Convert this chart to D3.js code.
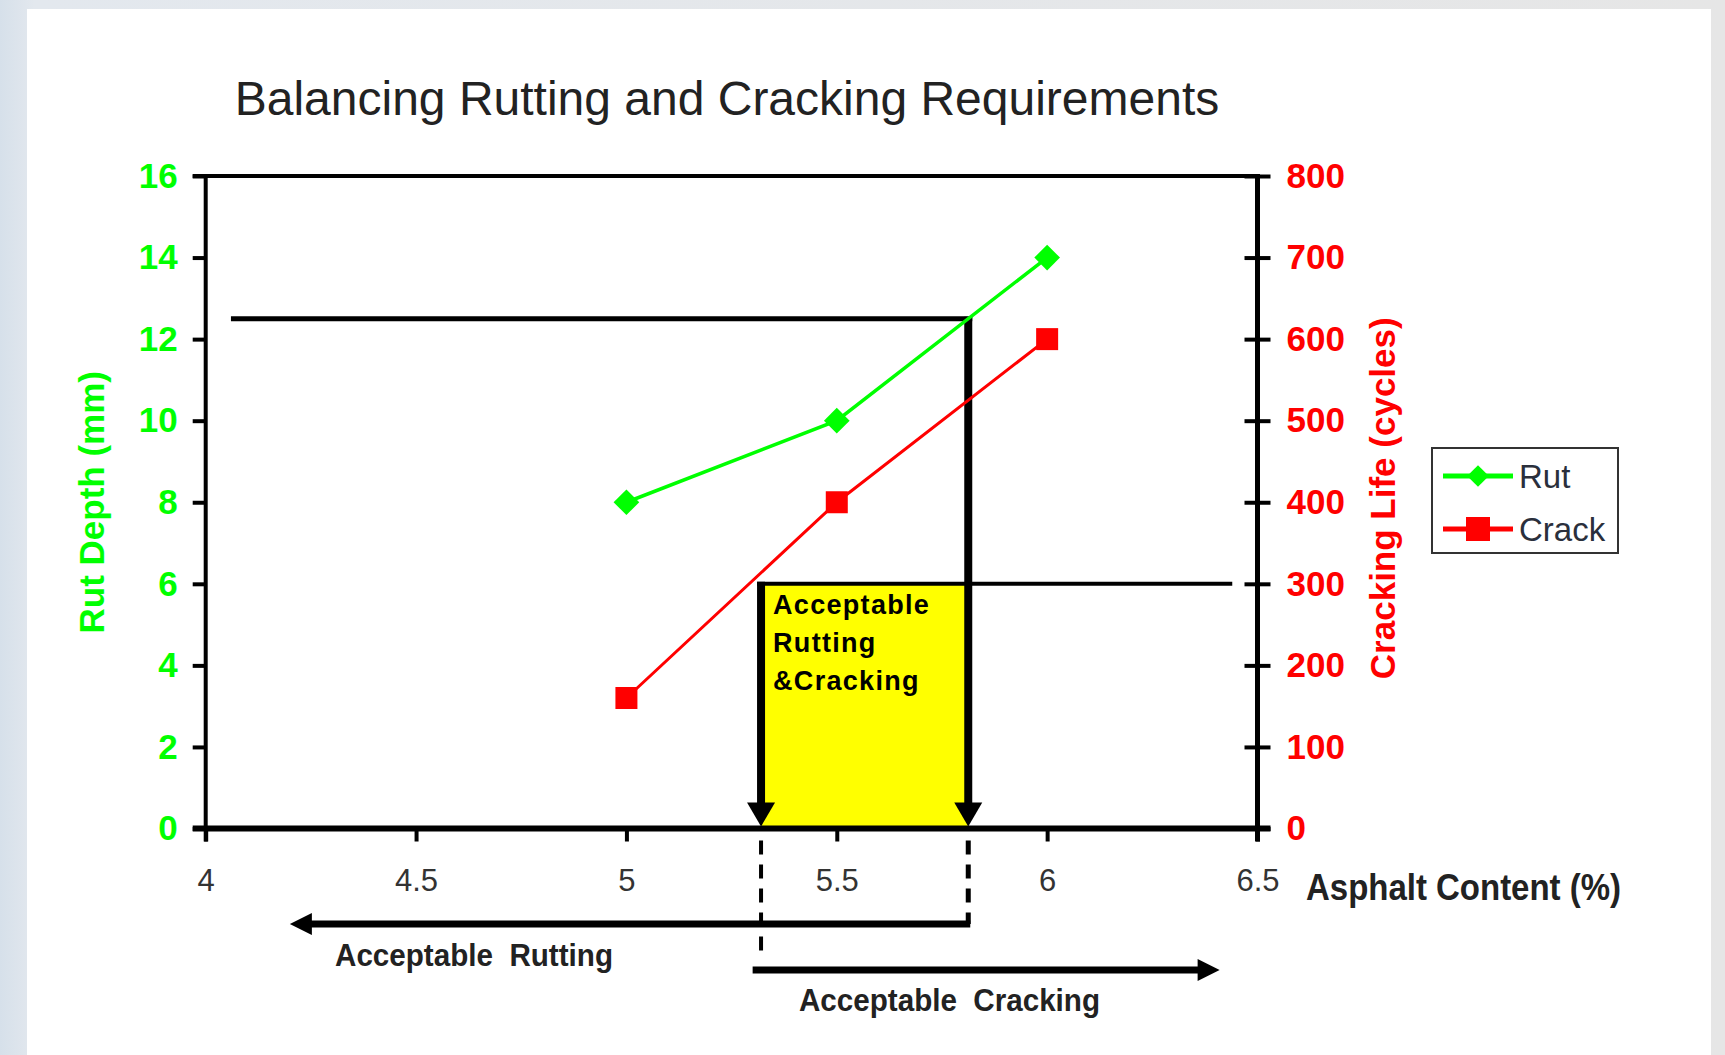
<!DOCTYPE html>
<html>
<head>
<meta charset="utf-8">
<script src="https://cdn.jsdelivr.net/npm/d3@7"></script>
<style>
  html, body { margin: 0; padding: 0; }
  body { width: 1725px; height: 1055px; overflow: hidden; }
  svg { display: block; }
</style>
</head>
<body>
<script>
// ---- data ----
const asphaltContent = [5, 5.5, 6];
const rutDepth = [8, 10, 14];
const crackLife = [160, 400, 600];
const xTickValues = [4, 4.5, 5, 5.5, 6, 6.5];
const rutTickValues = [0, 2, 4, 6, 8, 10, 12, 14, 16];
const crackTickValues = [0, 100, 200, 300, 400, 500, 600, 700, 800];
const seriesNames = ["Rut", "Crack"];
// annotation values
const rutLimit = 12.5;        // mm
const crackLimit = 300;       // cycles
const acceptLow = 5.32;       // % asphalt
const acceptHigh = 5.8125;    // % asphalt
const rutLineStart = 4.06;
const crackLineEnd = 6.44;
const rutArrowTip = 4.2;
const crackArrowStart = 5.3;
const crackArrowTip = 6.41;

(function () {
const W = 1725, H = 1055;
const FONT = "'Liberation Sans', Arial, Helvetica, sans-serif";
const GREEN = "#00ff00", RED = "#ff0000";

const svg = d3.select("body").append("svg").attr("width", W).attr("height", H);

// background
const defs = svg.append("defs");
const bg = defs.append("linearGradient").attr("id", "bg").attr("x1", 0).attr("y1", 0).attr("x2", 1).attr("y2", 0);
bg.append("stop").attr("offset", "0%").attr("stop-color", "#d6e0ea");
bg.append("stop").attr("offset", "2%").attr("stop-color", "#e3e8ee");
bg.append("stop").attr("offset", "100%").attr("stop-color", "#e6e6e6");
svg.append("rect").attr("width", W).attr("height", H).attr("fill", "url(#bg)");
svg.append("rect").attr("x", 27).attr("y", 9).attr("width", 1684).attr("height", H - 9).attr("fill", "#ffffff");

// plot frame
const pLeft = 205.7, pRight = 1257.5, pTop = 176, pBottom = 828.5;
const x = d3.scaleLinear().domain([4, 6.5]).range([pLeft, pRight]);
const yL = d3.scaleLinear().domain([0, 16]).range([pBottom, pTop]);
const yR = d3.scaleLinear().domain([0, 800]).range([pBottom, pTop]);

// title
svg.append("text").attr("x", 727).attr("y", 115).attr("text-anchor", "middle")
  .attr("font-family", FONT).attr("font-size", 48).attr("fill", "#222")
  .text("Balancing Rutting and Cracking Requirements");

// yellow acceptable region
svg.append("rect")
  .attr("x", x(acceptLow)).attr("y", yR(crackLimit))
  .attr("width", x(acceptHigh) - x(acceptLow)).attr("height", yR(0) - yR(crackLimit))
  .attr("fill", "#ffff00");

// axes
const gL = svg.append("g").attr("transform", `translate(${pLeft},0)`)
  .call(d3.axisLeft(yL).tickValues(rutTickValues).tickSize(13).tickPadding(15));
gL.select(".domain").remove();
gL.selectAll(".tick line").attr("stroke", "#000").attr("stroke-width", 4);
gL.selectAll(".tick text").attr("font-family", FONT).attr("font-size", 35).attr("font-weight", "bold")
  .attr("fill", GREEN);

const gR = svg.append("g").attr("transform", `translate(${pRight},0)`)
  .call(d3.axisRight(yR).tickValues(crackTickValues).tickSize(13).tickPadding(16));
gR.select(".domain").remove();
gR.selectAll(".tick line").attr("x1", -13).attr("stroke", "#000").attr("stroke-width", 4);
gR.selectAll(".tick text").attr("font-family", FONT).attr("font-size", 35).attr("font-weight", "bold")
  .attr("fill", RED);

const gB = svg.append("g").attr("transform", `translate(0,${pBottom})`)
  .call(d3.axisBottom(x).tickValues(xTickValues).tickSize(13).tickPadding(27).tickFormat(d3.format("")));
gB.select(".domain").remove();
gB.selectAll(".tick line").attr("stroke", "#000").attr("stroke-width", 4);
gB.selectAll(".tick text").attr("font-family", FONT).attr("font-size", 31)
  .attr("fill", "#333");

// frame lines
svg.append("line").attr("x1", pLeft - 13).attr("x2", pRight).attr("y1", pTop).attr("y2", pTop)
  .attr("stroke", "#000").attr("stroke-width", 4);
svg.append("line").attr("x1", pLeft).attr("x2", pLeft).attr("y1", pTop - 2).attr("y2", pBottom + 13)
  .attr("stroke", "#000").attr("stroke-width", 4);
svg.append("line").attr("x1", pRight).attr("x2", pRight).attr("y1", pTop - 2).attr("y2", pBottom + 13)
  .attr("stroke", "#000").attr("stroke-width", 5);

// axis titles
svg.append("text").attr("transform", `translate(104,${(pTop + pBottom) / 2}) rotate(-90)`)
  .attr("text-anchor", "middle").attr("font-family", FONT).attr("font-size", 35)
  .attr("font-weight", "bold").attr("fill", GREEN).text("Rut Depth (mm)");
svg.append("text").attr("transform", `translate(1395,${(pTop + pBottom) / 2 - 4}) rotate(-90)`)
  .attr("text-anchor", "middle").attr("font-family", FONT).attr("font-size", 35)
  .attr("font-weight", "bold").attr("fill", RED).text("Cracking Life (cycles)");
svg.append("text").attr("x", 1306).attr("y", 900)
  .attr("font-family", FONT).attr("font-size", 36).attr("font-weight", "bold").attr("fill", "#222")
  .attr("textLength", 315).attr("lengthAdjust", "spacingAndGlyphs")
  .text("Asphalt Content (%)");

// limit lines
svg.append("line").attr("x1", x(rutLineStart)).attr("x2", x(acceptHigh) + 4)
  .attr("y1", yL(rutLimit)).attr("y2", yL(rutLimit)).attr("stroke", "#000").attr("stroke-width", 5);
svg.append("line").attr("x1", x(acceptLow) - 4).attr("x2", x(crackLineEnd))
  .attr("y1", yR(crackLimit)).attr("y2", yR(crackLimit)).attr("stroke", "#000").attr("stroke-width", 4);

// vertical arrows down to the axis
function downArrow(xv, yTop) {
  const xp = x(xv);
  svg.append("line").attr("x1", xp).attr("x2", xp).attr("y1", yTop).attr("y2", pBottom - 20)
    .attr("stroke", "#000").attr("stroke-width", 8);
  svg.append("path").attr("d", `M${xp - 14},${pBottom - 26} L${xp + 14},${pBottom - 26} L${xp},${pBottom - 2} Z`)
    .attr("fill", "#000");
}
downArrow(acceptLow, yR(crackLimit) - 2);
downArrow(acceptHigh, yL(rutLimit) - 2);

// bottom axis line (drawn over arrows)
svg.append("line").attr("x1", pLeft - 13).attr("x2", pRight + 13).attr("y1", pBottom).attr("y2", pBottom)
  .attr("stroke", "#000").attr("stroke-width", 6);

// box label
const boxLabel = svg.append("text").attr("font-family", FONT).attr("font-size", 27)
  .attr("font-weight", "bold").attr("fill", "#000").attr("letter-spacing", 1.3);
["Acceptable", "Rutting", "&Cracking"].forEach((t, i) => {
  boxLabel.append("tspan").attr("x", x(acceptLow) + 12).attr("y", 614 + i * 38).text(t);
});

// series lines
const line = d3.line().x(d => x(d[0])).y(d => d[1]);
svg.append("path").datum(asphaltContent.map((a, i) => [a, yL(rutDepth[i])]))
  .attr("d", line).attr("fill", "none").attr("stroke", GREEN).attr("stroke-width", 3.5);
svg.append("path").datum(asphaltContent.map((a, i) => [a, yR(crackLife[i])]))
  .attr("d", line).attr("fill", "none").attr("stroke", RED).attr("stroke-width", 3);
svg.selectAll(".rutpt").data(asphaltContent).enter().append("path")
  .attr("d", d3.symbol(d3.symbolDiamond2, 420)())
  .attr("transform", (d, i) => `translate(${x(d)},${yL(rutDepth[i])})`).attr("fill", GREEN);
svg.selectAll(".crackpt").data(asphaltContent).enter().append("rect")
  .attr("x", d => x(d) - 11).attr("y", (d, i) => yR(crackLife[i]) - 11)
  .attr("width", 22).attr("height", 22).attr("fill", RED);

// dashed guide lines below the axis
svg.append("line").attr("x1", x(acceptLow)).attr("x2", x(acceptLow)).attr("y1", pBottom + 12).attr("y2", 960)
  .attr("stroke", "#000").attr("stroke-width", 4).attr("stroke-dasharray", "14,10");
svg.append("line").attr("x1", x(acceptHigh)).attr("x2", x(acceptHigh)).attr("y1", pBottom + 12).attr("y2", 924)
  .attr("stroke", "#000").attr("stroke-width", 5).attr("stroke-dasharray", "14,10");

// horizontal arrows
const yRutArrow = 924, yCrackArrow = 970;
svg.append("line").attr("x1", x(acceptHigh) + 2).attr("x2", x(rutArrowTip) + 18)
  .attr("y1", yRutArrow).attr("y2", yRutArrow).attr("stroke", "#000").attr("stroke-width", 7);
svg.append("path").attr("d", `M${x(rutArrowTip)},${yRutArrow} L${x(rutArrowTip) + 22},${yRutArrow - 11} L${x(rutArrowTip) + 22},${yRutArrow + 11} Z`).attr("fill", "#000");
svg.append("line").attr("x1", x(crackArrowStart)).attr("x2", x(crackArrowTip) - 18)
  .attr("y1", yCrackArrow).attr("y2", yCrackArrow).attr("stroke", "#000").attr("stroke-width", 7);
svg.append("path").attr("d", `M${x(crackArrowTip)},${yCrackArrow} L${x(crackArrowTip) - 22},${yCrackArrow - 11} L${x(crackArrowTip) - 22},${yCrackArrow + 11} Z`).attr("fill", "#000");

svg.append("text").attr("x", 335).attr("y", 966).attr("font-family", FONT).attr("font-size", 31)
  .attr("font-weight", "bold").attr("fill", "#222").attr("textLength", 278).attr("lengthAdjust", "spacingAndGlyphs")
  .attr("xml:space", "preserve").text("Acceptable  Rutting");
svg.append("text").attr("x", 799).attr("y", 1011).attr("font-family", FONT).attr("font-size", 31)
  .attr("font-weight", "bold").attr("fill", "#222").attr("textLength", 301).attr("lengthAdjust", "spacingAndGlyphs")
  .attr("xml:space", "preserve").text("Acceptable  Cracking");

// legend
const lg = svg.append("g");
lg.append("rect").attr("x", 1432).attr("y", 448).attr("width", 186).attr("height", 105)
  .attr("fill", "#fff").attr("stroke", "#333").attr("stroke-width", 2);
const legendRows = [
  { name: seriesNames[0], color: GREEN, y: 476 },
  { name: seriesNames[1], color: RED, y: 529 }
];
legendRows.forEach((r, i) => {
  lg.append("line").attr("x1", 1443).attr("x2", 1513).attr("y1", r.y).attr("y2", r.y)
    .attr("stroke", r.color).attr("stroke-width", 5);
  if (i === 0) {
    lg.append("path").attr("d", d3.symbol(d3.symbolDiamond2, 300)()).attr("transform", `translate(1478,${r.y})`).attr("fill", r.color);
  } else {
    lg.append("rect").attr("x", 1466).attr("y", r.y - 12).attr("width", 24).attr("height", 24).attr("fill", r.color);
  }
  lg.append("text").attr("x", 1519).attr("y", r.y + 12).attr("font-family", FONT).attr("font-size", 33)
    .attr("fill", "#2a2f3c").text(r.name);
});
})();
</script>
</body>
</html>
